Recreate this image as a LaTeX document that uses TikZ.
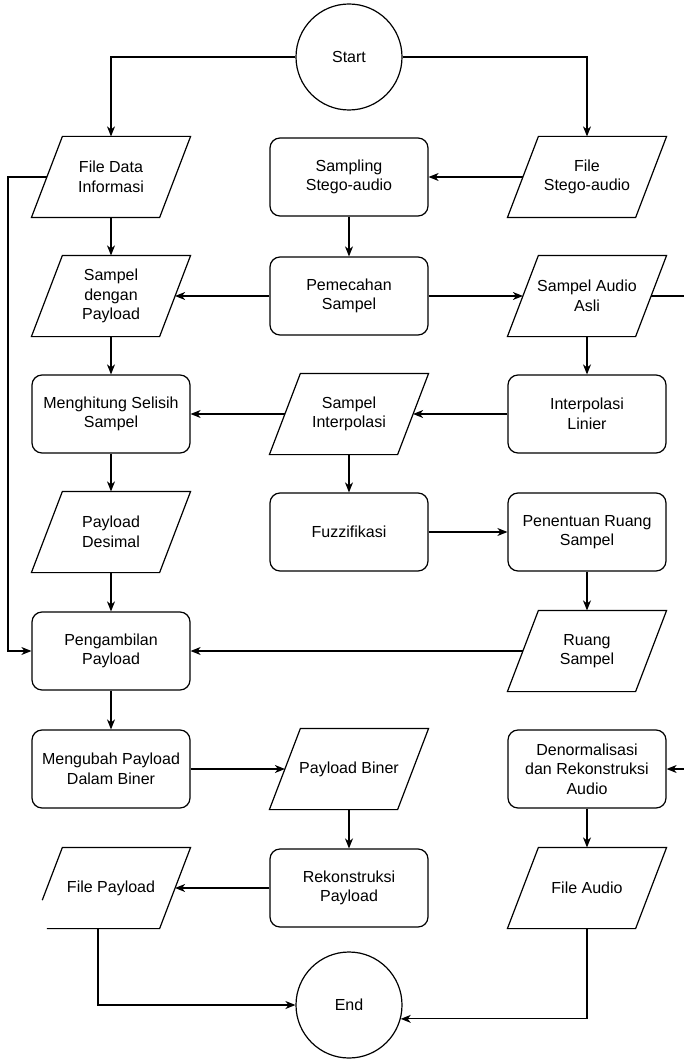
\documentclass[tikz,border=0pt]{standalone}
\usepackage{fontspec}
\setmainfont{Liberation Sans}
\usetikzlibrary{arrows.meta, calc}

\tikzset{
  proc/.style={draw, rounded corners=10pt, minimum width=158pt, minimum height=78pt, align=center, inner sep=2pt},
  data/.style={minimum width=127pt, minimum height=80pt, align=center, inner sep=2pt},
  term/.style={draw, circle, minimum size=106pt, inner sep=0pt},
  link/.style={-{Stealth[length=10pt,width=8pt,inset=3pt]}},
}

\begin{document}
\begin{tikzpicture}[x=1pt, y=-1pt, line width=1.2pt, font=\fontsize{16}{19.5}\selectfont]
  \useasboundingbox (0,0) rectangle (684,1059);
  % columns 111 / 349 / 587
  \node[term] (start) at (349,57) {Start};

  \node[data] (fdata)  at (111,177) {File Data\\Informasi};
  \node[proc] (sampl)  at (349,177) {Sampling\\Stego-audio};
  \node[data] (fstego) at (587,177) {File\\Stego-audio};

  \node[data] (spay)   at (111,296) {Sampel\\dengan\\Payload};
  \node[proc] (pecah)  at (349,296) {Pemecahan\\Sampel};
  \node[data] (sasli)  at (587,296) {Sampel Audio\\Asli};

  \node[proc] (hitung) at (111,414) {Menghitung Selisih\\Sampel};
  \node[data] (sinter) at (349,414) {Sampel\\Interpolasi};
  \node[proc] (ilin)   at (587,414) {Interpolasi\\Linier};

  \node[data] (pdes)   at (111,532) {Payload\\Desimal};
  \node[proc] (fuzzy)  at (349,532) {Fuzzifikasi};
  \node[proc] (ruangp) at (587,532) {Penentuan Ruang\\Sampel};

  \node[proc] (ambil)  at (111,651) {Pengambilan\\Payload};
  \node[data] (ruang)  at (587,651) {Ruang\\Sampel};

  \node[proc] (ubah)   at (111,769) {Mengubah Payload\\Dalam Biner};
  \node[data] (pbin)   at (349,769) {Payload Biner};
  \node[proc] (denorm) at (587,769) {Denormalisasi\\dan Rekonstruksi\\Audio};

  \node[data] (fpay)   at (111,888) {File Payload};
  \node[proc] (rekon)  at (349,888) {Rekonstruksi\\Payload};
  \node[data] (faudio) at (587,888) {File Audio};

  \node[term] (end) at (349,1005) {End};

  % parallelogram outlines
  \foreach \n in {fdata,fstego,spay,sasli,sinter,pdes,ruang,pbin,faudio}
    \draw ([xshift=15.5pt]\n.north west) -- ([xshift=15.5pt]\n.north east)
      -- ([xshift=-15.5pt]\n.south east) -- ([xshift=-15.5pt]\n.south west) -- cycle;
  % cut outline of File Payload
  \draw ($([xshift=15.5pt]fpay.north west)!0.65!([xshift=-15.5pt]fpay.south west)$)
    -- ([xshift=15.5pt]fpay.north west) -- ([xshift=15.5pt]fpay.north east)
    -- ([xshift=-15.5pt]fpay.south east) -- ([xshift=0pt]fpay.south west);

  \coordinate (outr) at (684,296);
  \coordinate (inr) at (684,769);

  \draw[link] (start.west) -| (fdata.north);
  \draw[link] (start.east) -| (fstego.north);
  \draw[link] (fstego.west) -- (sampl.east);
  \draw[link] (sampl.south) -- (pecah.north);
  \draw[link] (pecah.west) -- (spay.east);
  \draw[link] (pecah.east) -- (sasli.west);
  \draw (sasli.east) -- (outr);
  \draw[link] (fdata.south) -- (spay.north);
  \draw[link] (spay.south) -- (hitung.north);
  \draw[link] (sasli.south) -- (ilin.north);
  \draw[link] (ilin.west) -- (sinter.east);
  \draw[link] (sinter.west) -- (hitung.east);
  \draw[link] (sinter.south) -- (fuzzy.north);
  \draw[link] (hitung.south) -- (pdes.north);
  \draw[link] (fuzzy.east) -- (ruangp.west);
  \draw[link] (ruangp.south) -- (ruang.north);
  \draw[link] (pdes.south) -- (ambil.north);
  \draw[link] (ruang.west) -- (ambil.east);
  \draw[link] (fdata.west) -- (8,177) |- (ambil.west);
  \draw[link] (ambil.south) -- (ubah.north);
  \draw[link] (ubah.east) -- (pbin.west);
  \draw[link] (pbin.south) -- (rekon.north);
  \draw[link] (rekon.west) -- (fpay.east);
  \draw[link] (inr) -- (denorm.east);
  \draw[link] (denorm.south) -- (faudio.north);
  \draw[link] ([xshift=-13pt]fpay.south) |- (end.west);
  \draw[link] (faudio.south) |- (end.-15);
\end{tikzpicture}
\end{document}
